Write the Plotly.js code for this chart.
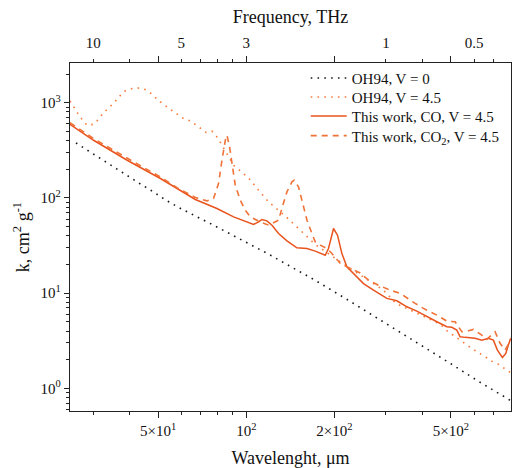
<!DOCTYPE html>
<html><head><meta charset="utf-8">
<script src="https://cdn.plot.ly/plotly-3.0.1.min.js"></script>
<style>html,body{margin:0;padding:0;background:#fff}#chart{width:512px;height:468px}</style>
</head><body><div id="chart"></div>
<script>
// OH94, V = 0
const lamV0 = [26.2, 29.0, 32.0, 35.5, 39.3, 43.5, 48.1, 53.2, 59.1, 65.8, 73.4, 77.3, 117.7, 161, 170, 218, 255, 403, 497, 637, 786, 800];
const kV0   = [378, 309, 253, 206, 170, 140, 116, 94.6, 78.6, 67.0, 56.0, 51.7, 26.2, 15.5, 13.9, 8.8, 6.5, 2.73, 1.83, 1.13, 0.77, 0.74];
// OH94, V = 4.5
const lamV45 = [25.0,25.7,26.6,27.5,28.6,30.1,31.3,32.4,33.9,35.4,36.9,38.4,40.7,43.1,45.2,47.7,50.0,52.2,55.0,57.7,61.1,64.4,67.5,70.2,73.0,76.4,79.4,82.0,90.5,97.9,102.6,110.2,119.2,130.6,136.9,148.9,163.2,172.0,209.4,252.7,294.2,324.3,459.3,486.4,512.8,563.5,593.9,654.2,689.6,726.3,759.5,800];
const kV45   = [1042,901,768,665,579,593,670,774,888,1002,1167,1317,1406,1427,1373,1225,1060,955,852,768,681,643,575,522,486,501,437,372,220,180,157,120,90.8,71.3,63.2,49.6,37.5,32.4,21.3,14.5,10.75,7.8,4.73,3.99,3.54,2.85,2.58,2.15,1.93,1.79,1.62,1.46];
// This work, CO, V = 4.5
const lamCO = [25.0,30.1,39.2,50.9,67.0,79.4,90.5,103.2,105.9,110.2,113.1,117.6,122.4,128.9,137.7,148.9,161.2,172.0,186.1,190.9,198.6,204.9,212.1,220.6,226.5,238.7,251.4,272.0,302.1,326.8,353.6,382.4,413.7,447.6,484.2,503.5,523.7,537.5,559.0,604.7,637.4,671.4,698.2,720.7,749.6,769.9,785.6,800];
const kCO   = [593,403,248.6,159.8,96.2,77.4,63.2,53.9,52.6,56.0,59.3,57.4,51.7,42.3,35.4,29.9,29.4,27.6,25.0,29.4,47.7,40.6,26.1,18.9,17.4,14.8,12.6,10.75,8.80,8.30,7.18,6.47,5.64,5.00,4.43,4.37,4.09,3.48,3.43,3.35,3.21,3.35,3.21,2.52,2.11,2.33,2.85,3.35];
// This work, CO2, V = 4.5
const lamCO2 = [25.0,30.1,35.0,39.2,45.0,50.9,58.0,67.0,73.4,77.3,80.4,82.6,84.8,85.9,87.7,89.4,91.7,95.4,99.2,103.2,111.6,119.2,122.4,128.9,132.3,137.7,143.2,145.8,150.8,155.0,161.2,167.6,172.0,178.9,188.6,196.1,209.4,220.6,232.4,244.9,261.5,282.8,310.1,335.5,377.5,402.8,447.6,484.2,516.8,544.7,573.8,596.8,637.4,663.1,707.6,736.0,765.6,800];
const kCO2   = [615,420,320,260,205,166,128,101,93,98.6,141.6,248.6,403,455,343,229.6,135.9,94.6,74.3,63.2,56.0,51.7,53.9,58.3,77.4,115.6,147.2,153.4,130.5,90.8,58.3,42.3,34.5,31.9,29.4,26.1,20.5,18.9,17.7,16.3,13.7,12.1,10.75,9.93,7.80,6.91,5.88,5.08,5.00,3.93,4.02,4.16,3.62,3.27,3.93,2.97,2.52,3.21];

const names = ['OH94, V = 0', 'OH94, V = 4.5', 'This work, CO, V = 4.5', 'This work, CO<sub>2</sub>, V = 4.5'];

// axis ticks
const xMajor = [50, 100, 200, 500];
const xMajorText = ['5×10<sup>1</sup>', '10<sup>2</sup>', '2×10<sup>2</sup>', '5×10<sup>2</sup>'];
const xMinor = [30, 40, 60, 70, 80, 90, 300, 400, 600, 700];
const freqPos = [30, 60, 100, 300, 600];
const freqText = ['10', '5', '3', '1', '0.5'];
const yMajor = [1, 10, 100, 1000];
const yMajorText = ['10<sup>0</sup>', '10<sup>1</sup>', '10<sup>2</sup>', '10<sup>3</sup>'];
const yMinor = [0.6,0.7,0.8,0.9,2,3,4,5,6,7,8,9,20,30,40,50,60,70,80,90,200,300,400,500,600,700,800,900,2000];

const FONT = "'Liberation Serif', 'Times New Roman', serif";
const cV0 = '#1a1a1a', cV45 = '#F97A3A', cCO = '#E8531E', cCO2 = '#F07236';

const traces = [
  {x: lamV0, y: kV0, name: names[0], legend: 'legend', mode: 'lines', line: {color: cV0, width: 1.6, dash: '1.6px,5.2px'}},
  {x: lamV45, y: kV45, name: names[1], legend: 'legend2', mode: 'lines', line: {color: cV45, width: 1.6, dash: '1.6px,5.2px'}},
  {x: lamCO, y: kCO, name: names[2], legend: 'legend3', mode: 'lines', line: {color: cCO, width: 1.5}},
  {x: lamCO2, y: kCO2, name: names[3], legend: 'legend4', mode: 'lines', line: {color: cCO2, width: 1.6, dash: '6px,5px'}},
  {x: lamV0, y: kV0, xaxis: 'x2', mode: 'none', showlegend: false, hoverinfo: 'skip'}
];

const legBase = {x: 0.5345, xanchor: 'left', yanchor: 'top', bgcolor: 'rgba(0,0,0,0)', borderwidth: 0,
                 font: {family: FONT, size: 15, color: '#111'}, itemwidth: 36};
const xr = [Math.log10(25), Math.log10(802)];
const layout = {
  width: 512, height: 468,
  margin: {l: 70, r: 1, t: 63, b: 57},
  paper_bgcolor: '#fff', plot_bgcolor: '#fff',
  font: {family: FONT, size: 15, color: '#111'},
  showlegend: true,
  legend:  Object.assign({}, legBase, {y: 1.0037}),
  legend2: Object.assign({}, legBase, {y: 0.9491}),
  legend3: Object.assign({}, legBase, {y: 0.8945}),
  legend4: Object.assign({}, legBase, {y: 0.8379}),
  xaxis: {
    type: 'log', range: xr, showgrid: false, zeroline: false,
    showline: true, linecolor: '#222', linewidth: 1.2, mirror: 'ticks',
    tickmode: 'array', tickvals: xMajor, ticktext: xMajorText,
    ticks: 'outside', ticklen: 6, tickcolor: '#222', tickwidth: 1,
    minor: {tickmode: 'array', tickvals: xMinor, ticks: 'outside', ticklen: 3, tickcolor: '#222', showgrid: false},
    tickfont: {family: FONT, size: 15, color: '#111'},
    title: {text: 'Wavelenght, μm', font: {family: FONT, size: 18, color: '#111'}, standoff: 13}
  },
  xaxis2: {
    type: 'log', range: xr, overlaying: 'x', side: 'top', anchor: 'y',
    showgrid: false, zeroline: false, showline: false, ticks: '',
    tickmode: 'array', tickvals: freqPos, ticktext: freqText, ticklabelstandoff: 11,
    tickfont: {family: FONT, size: 15, color: '#111'},
    title: {text: 'Frequency, THz', font: {family: FONT, size: 18, color: '#111'}, standoff: 6}
  },
  yaxis: {
    type: 'log', range: [-0.238, 3.4166], showgrid: false, zeroline: false,
    showline: true, linecolor: '#222', linewidth: 1.2, mirror: true,
    tickmode: 'array', tickvals: yMajor, ticktext: yMajorText,
    ticks: 'outside', ticklen: 5, tickcolor: '#222', tickwidth: 1,
    minor: {tickmode: 'array', tickvals: yMinor, ticks: 'outside', ticklen: 3, tickcolor: '#222', showgrid: false},
    tickfont: {family: FONT, size: 15, color: '#111'},
    title: {text: 'k, cm<sup>2</sup> g<sup>-1</sup>', font: {family: FONT, size: 18, color: '#111'}, standoff: 6}
  }
};

Plotly.newPlot('chart', traces, layout, {staticPlot: true, displayModeBar: false});
</script>
</body></html>
